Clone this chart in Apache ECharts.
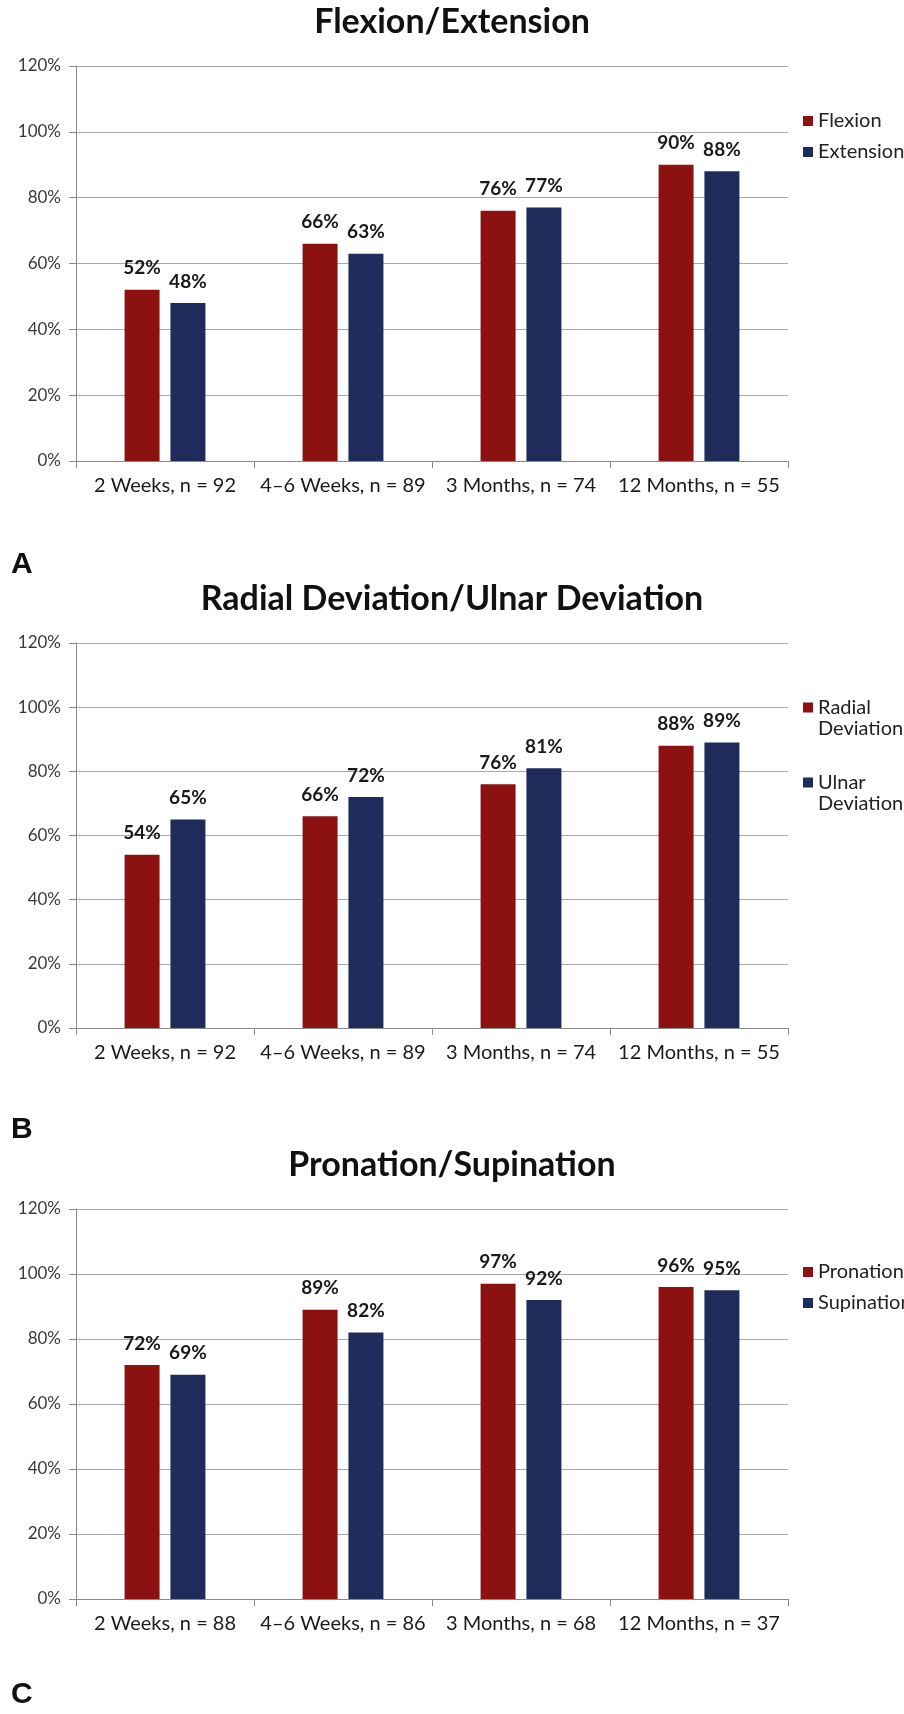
<!DOCTYPE html>
<html><head><meta charset="utf-8">
<script src="https://cdn.jsdelivr.net/npm/echarts@6/dist/echarts.min.js"></script>
<style>html,body{margin:0;padding:0;background:#fff}#c{width:904px;height:1714px}</style>
</head><body><div id="c"></div>
<script>
// ---- data ----
const categoriesAB = ['2 Weeks, n = 92', '4\u20136 Weeks, n = 89', '3 Months, n = 74', '12 Months, n = 55'];
const categoriesC = ['2 Weeks, n = 88', '4\u20136 Weeks, n = 86', '3 Months, n = 68', '12 Months, n = 37'];
const flexion = [52, 66, 76, 90];
const extension = [48, 63, 77, 88];
const radialDeviation = [54, 66, 76, 88];
const ulnarDeviation = [65, 72, 81, 89];
const pronation = [72, 89, 97, 96];
const supination = [69, 82, 92, 95];
const yMin = 0, yMax = 120, yStep = 20;

const RED = '#8c1111', BLUE = '#1f2b5b';
const FONT = 'Lato';

const panels = [
  {title: 'Flexion/Extension', letter: 'A', cats: categoriesAB,
   s: [['Flexion', flexion], ['Extension', extension]],
   top: 66, h: 395, titleY: 26, letterY: 567, leg: [121, 152], two: false},
  {title: 'Radial Deviation/Ulnar Deviation', letter: 'B', cats: categoriesAB,
   s: [['Radial Deviation', radialDeviation], ['Ulnar Deviation', ulnarDeviation]],
   top: 643, h: 385, titleY: 603, letterY: 1132, leg: [702, 777], two: true},
  {title: 'Pronation/Supination', letter: 'C', cats: categoriesC,
   s: [['Pronation', pronation], ['Supination', supination]],
   top: 1209, h: 390, titleY: 1169, letterY: 1697, leg: [1272, 1303], two: false}
];

const option = {
  animation: false, backgroundColor: '#fff',
  title: [], grid: [], xAxis: [], yAxis: [], series: [], legend: []
};

panels.forEach((p, i) => {
  option.title.push({text: p.title, left: 452, top: p.titleY - 21, textAlign: 'center', padding: 0,
    textStyle: {fontFamily: FONT, fontSize: 34, fontWeight: 'bold', color: '#111'}});
  option.title.push({text: p.letter, left: 11, top: p.letterY - 17, padding: 0,
    textStyle: {fontFamily: 'Liberation Sans', fontSize: 30, fontWeight: 'bold', color: '#111'}});
  option.grid.push({left: 76, right: 116, top: p.top, height: p.h});
  option.xAxis.push({type: 'category', gridIndex: i, data: p.cats,
    axisLine: {lineStyle: {color: '#8a8a8a', width: 1}},
    axisTick: {show: true, length: 7, lineStyle: {color: '#8a8a8a'}},
    axisLabel: {interval: 0, fontFamily: FONT, fontSize: 20, color: '#1a1a1a', margin: 15}});
  option.yAxis.push({type: 'value', gridIndex: i, min: yMin, max: yMax, interval: yStep,
    axisLine: {show: true, lineStyle: {color: '#8a8a8a', width: 1}},
    axisTick: {show: true, length: 7, lineStyle: {color: '#8a8a8a'}},
    splitLine: {lineStyle: {color: '#a8a8a8', width: 1}},
    axisLabel: {formatter: '{value}%', fontFamily: FONT, fontSize: 17, color: '#3a3a3a', margin: 15}});
  p.s.forEach(([name, vals], k) => {
    option.series.push({type: 'bar', name: name, xAxisIndex: i, yAxisIndex: i, data: vals,
      barWidth: 35, barGap: '31%',
      itemStyle: {color: k === 0 ? RED : BLUE},
      label: {show: true, position: 'top', distance: 12, formatter: '{c}%',
        fontFamily: FONT, fontSize: 19, fontWeight: 'bold', color: '#1a1a1a'}});
    const lg = {data: [name], orient: 'vertical', left: 803, padding: 0,
      itemWidth: 10, itemHeight: 10, itemGap: 0, icon: 'rect', selectedMode: false,
      textStyle: {fontFamily: FONT, fontSize: 20, color: '#222', lineHeight: 21}};
    if (p.two) {
      lg.formatter = n => n.replace(' ', '\n');
      // square in the top of a 10x31 icon box so it lines up with the first text line
      lg.icon = 'path://M0,0L10,0L10,10L0,10Z M0,31L0.01,31';
      lg.itemHeight = 31;
      lg.top = p.leg[k] - 5;
    } else {
      lg.top = p.leg[k] - 10.5;
    }
    option.legend.push(lg);
  });
});

const chart = echarts.init(document.getElementById('c'), null, {renderer: 'canvas'});
chart.setOption(option);
</script></body></html>
